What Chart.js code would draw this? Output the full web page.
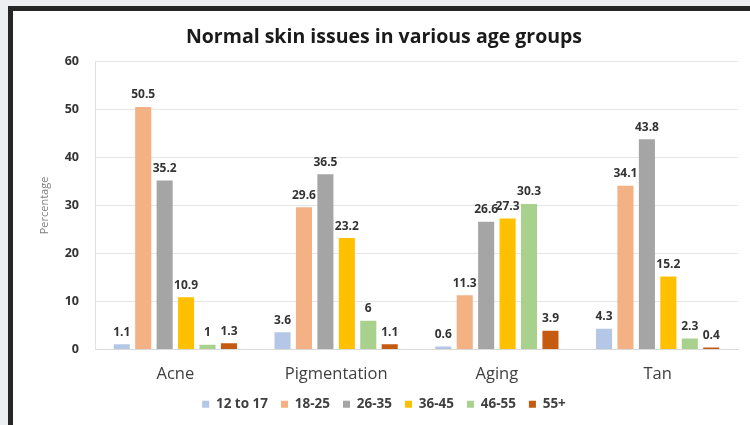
<!DOCTYPE html>
<html>
<head>
<meta charset="utf-8">
<script src="https://cdn.jsdelivr.net/npm/chart.js@4/dist/chart.umd.min.js"></script>
<style>
  html, body { margin: 0; padding: 0; background: #eceef1; }
  body { width: 750px; height: 425px; position: relative; overflow: hidden; }
  #panel {
    position: absolute; left: 8px; top: 6px; width: 760px; height: 415px;
    background: #ffffff;
    border-left: 5px solid #262626; border-top: 5px solid #262626;
    border-bottom: 2px solid #c8c8c8;
  }
  #wrap { position: absolute; left: 0; top: 0; width: 750px; height: 425px; }
</style>
</head>
<body>
<div id="panel"></div>
<div id="wrap"><canvas id="c" width="750" height="425"></canvas></div>
<script>
const categories = ['Acne', 'Pigmentation', 'Aging', 'Tan'];
const ageGroups = ['12 to 17', '18-25', '26-35', '36-45', '46-55', '55+'];
const age12to17 = [1.1, 3.6, 0.6, 4.3];
const age18to25 = [50.5, 29.6, 11.3, 34.1];
const age26to35 = [35.2, 36.5, 26.6, 43.8];
const age36to45 = [10.9, 23.2, 27.3, 15.2];
const age46to55 = [1, 6, 30.3, 2.3];
const age55plus = [1.3, 1.1, 3.9, 0.4];
const yTicks = [0, 10, 20, 30, 40, 50, 60];

const seriesValues = [age12to17, age18to25, age26to35, age36to45, age46to55, age55plus];
const seriesColors = ['#b4c7e7', '#f4b183', '#a5a5a5', '#ffc000', '#a9d18e', '#c55a11'];

const FONT = '"Open Sans", Lato, sans-serif';

// writes each bar's value just above it
const barValueLabels = {
  id: 'barValueLabels',
  afterDatasetsDraw(chart) {
    const ctx = chart.ctx;
    ctx.save();
    ctx.font = 'bold 12px ' + FONT;
    ctx.fillStyle = '#333333';
    ctx.textAlign = 'center';
    ctx.textBaseline = 'bottom';
    chart.data.datasets.forEach((ds, i) => {
      chart.getDatasetMeta(i).data.forEach((bar, j) => {
        ctx.fillText(String(ds.data[j]), bar.x, bar.y - 6);
      });
    });
    ctx.restore();
  }
};

new Chart(document.getElementById('c'), {
  type: 'bar',
  data: {
    labels: categories,
    datasets: ageGroups.map((name, i) => ({
      label: name,
      data: seriesValues[i],
      backgroundColor: seriesColors[i],
      borderWidth: 0,
      categoryPercentage: 0.8,
      barPercentage: 0.75
    }))
  },
  options: {
    responsive: false,
    animation: false,
    layout: { padding: { left: 30, right: 12, top: 19, bottom: 4 } },
    plugins: {
      title: {
        display: true,
        text: 'Normal skin issues in various age groups',
        color: '#1a1a1a',
        font: { family: FONT, size: 19.5, weight: 'bold' },
        padding: { top: 7, bottom: 12 }
      },
      legend: {
        position: 'bottom',
        labels: {
          boxWidth: 7, boxHeight: 7,
          color: '#404040',
          font: { family: FONT, size: 13.5, weight: 'bold' },
          padding: 13
        }
      },
      tooltip: { enabled: false }
    },
    scales: {
      x: {
        grid: { display: false },
        border: { display: true, color: '#d9d9d9' },
        ticks: { color: '#404040', font: { family: FONT, size: 16.5 }, padding: 7 },
        afterFit(scale) { scale.height = 35; }
      },
      y: {
        min: 0, max: 60,
        afterBuildTicks(scale) { scale.ticks = yTicks.map(v => ({ value: v })); },
        grid: { color: '#e6e6e6', drawTicks: false },
        border: { display: true, color: '#e0e0e0' },
        ticks: { color: '#333333', font: { family: FONT, size: 12.5, weight: 'bold' }, padding: 16 },
        title: {
          display: true, text: 'Percentage', color: '#7f7f7f',
          font: { family: FONT, size: 11 }, padding: { top: 8, bottom: 0 }
        },
        afterFit(scale) { scale.width = 65; }
      }
    }
  },
  plugins: [barValueLabels]
});
</script>
</body>
</html>
